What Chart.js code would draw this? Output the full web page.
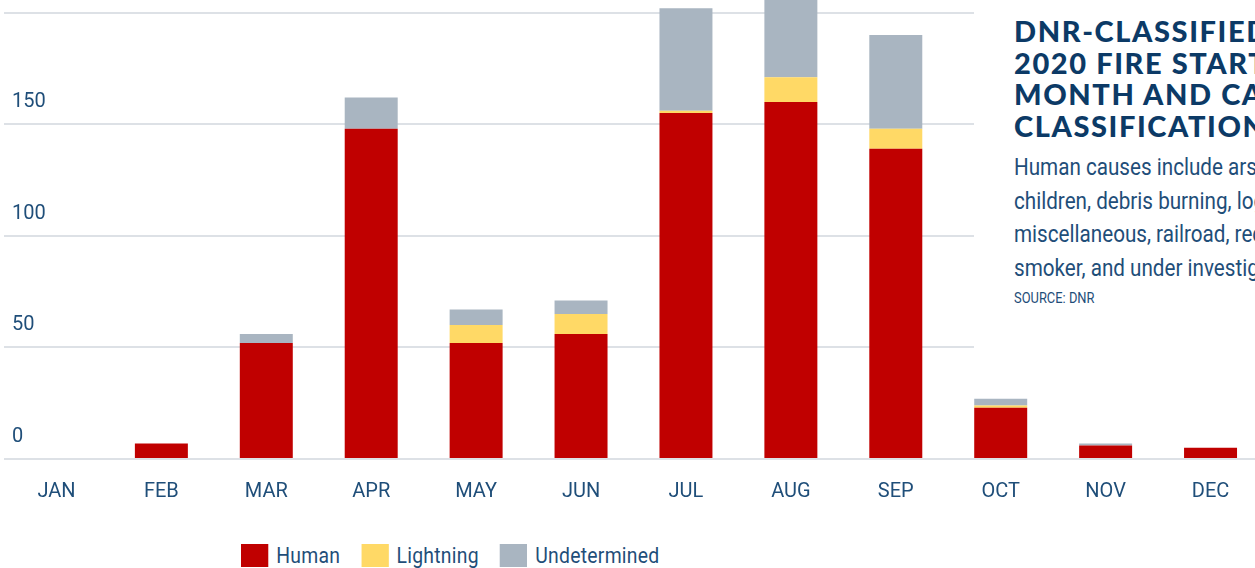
<!DOCTYPE html>
<html>
<head>
<meta charset="utf-8">
<script src="https://cdn.jsdelivr.net/npm/chart.js@4/dist/chart.umd.min.js"></script>
<style>
  html, body { margin: 0; padding: 0; background: #fff; }
  body { width: 1255px; height: 568px; overflow: hidden; position: relative; }
  #chart { position: absolute; left: 4px; top: -119px; }
  #panel { position: absolute; left: 974px; top: 0; width: 300px; height: 392px; background: #fff; }
  #title { position: absolute; left: 40px; top: 15px; white-space: nowrap;
    font-family: Lato, "DejaVu Sans", sans-serif; font-weight: 900; font-size: 29px;
    line-height: 31.7px; letter-spacing: 1.6px; color: #0c3a66; }
  #desc { position: absolute; left: 40px; top: 151px; white-space: nowrap;
    font-family: Roboto, sans-serif; font-size: 24px; line-height: 33.5px; color: #1f4e79;
    transform: scaleX(0.86); transform-origin: 0 0; }
  #source { position: absolute; left: 40px; top: 289px; white-space: nowrap;
    font-family: Roboto, sans-serif; font-size: 15px; line-height: 18px; color: #1f4e79;
    transform: scaleX(0.86); transform-origin: 0 0; }
  #legend { position: absolute; left: 241px; top: 544px; display: flex; align-items: center;
    font-family: Roboto, sans-serif; font-size: 22px; color: #1f4e79; letter-spacing: 0.3px;
    transform: scaleX(0.88); transform-origin: 0 0; }
  #legend .item { display: flex; align-items: center; margin-right: 24px; }
  #legend .box { width: 31px; height: 23px; margin-right: 9px; }
  #legend .txt { line-height: 23px; }
</style>
</head>
<body>
<canvas id="chart" width="1259" height="638"></canvas>
<div id="panel">
  <div id="title">DNR-CLASSIFIED<br>2020 FIRE STARTS BY<br>MONTH AND CAUSE<br>CLASSIFICATION</div>
  <div id="desc">Human causes include arson,<br>children, debris burning, logging,<br>miscellaneous, railroad, recreation,<br>smoker, and under investigation.</div>
  <div id="source">SOURCE: DNR</div>
</div>
<div id="legend"></div>
<script>
// fire starts per month, by cause
const months = ["JAN", "FEB", "MAR", "APR", "MAY", "JUN", "JUL", "AUG", "SEP", "OCT", "NOV", "DEC"];
const human = [0, 7, 52, 148, 52, 56, 155, 160, 139, 23, 6, 5];
const lightning = [0, 0, 0, 0, 8, 9, 1, 11, 9, 1, 0, 0];
const undetermined = [0, 0, 4, 14, 7, 6, 46, 44, 42, 3, 1, 0];
const yTicks = [0, 50, 100, 150, 200, 250];

const navy = "#1f4e79";
const labelFont = { family: "Roboto, sans-serif", size: 20 };

const chart = new Chart(document.getElementById("chart"), {
  type: "bar",
  data: {
    labels: months,
    datasets: [
      { label: "Human", data: human, backgroundColor: "#c00000" },
      { label: "Lightning", data: lightning, backgroundColor: "#ffd966" },
      { label: "Undetermined", data: undetermined, backgroundColor: "#a9b5c1" },
    ],
  },
  options: {
    responsive: false,
    animation: false,
    layout: { padding: 0 },
    datasets: { bar: { categoryPercentage: 1, barPercentage: 0.505 } },
    plugins: { legend: { display: false }, tooltip: { enabled: false } },
    scales: {
      x: {
        stacked: true,
        grid: { display: false },
        border: { display: false },
        ticks: { color: navy, font: labelFont, padding: 13, maxRotation: 0 },
        afterFit: (s) => { s.height = 60; },
      },
      y: {
        stacked: true,
        min: yTicks[0],
        max: yTicks[yTicks.length - 1],
        afterBuildTicks: (s) => { s.ticks = yTicks.map((v) => ({ value: v })); },
        grid: { color: "#dde1e6", lineWidth: 2, drawTicks: false },
        border: { display: false },
        ticks: { mirror: true, padding: 8, labelOffset: -22, color: navy, font: labelFont },
        afterFit: (s) => { s.width = 0; },
      },
    },
  },
});

// html legend built from the chart's own legend items
const legendEl = document.getElementById("legend");
chart.options.plugins.legend.labels.generateLabels(chart).forEach((it) => {
  const item = document.createElement("div");
  item.className = "item";
  const box = document.createElement("span");
  box.className = "box";
  box.style.background = it.fillStyle;
  const txt = document.createElement("span");
  txt.className = "txt";
  txt.textContent = it.text;
  item.appendChild(box);
  item.appendChild(txt);
  legendEl.appendChild(item);
});
</script>
</body>
</html>
